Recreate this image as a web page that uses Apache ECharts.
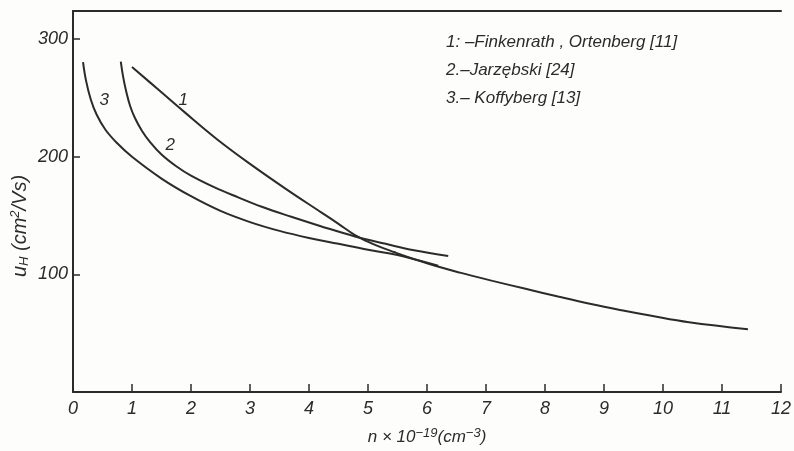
<!DOCTYPE html>
<html>
<head>
<meta charset="utf-8">
<script src="https://cdn.jsdelivr.net/npm/echarts@6/dist/echarts.min.js"></script>
</head>
<body style="margin:0;background:#fdfdfb">
<div id="container" style="width:794px;height:451px"></div>
<script>
// n x 10^-19 (cm^-3) vs Hall mobility u_H (cm^2/Vs)
var n1 = [1.0, 1.45, 1.89, 2.44, 3.0, 3.6, 4.2, 4.5, 4.78, 5.1, 5.44, 6.0, 6.56, 7.11, 7.67, 8.22, 8.78, 9.3, 9.78, 10.44, 11.44];
var u1 = [276.4, 257, 238, 215, 194, 173, 153, 143, 133.5, 125.5, 119, 109.5, 101.5, 94.5, 87.8, 81.2, 74.8, 69.5, 65, 59.3, 53.4];
var n2 = [0.81, 0.85, 0.9, 0.97, 1.05, 1.17, 1.3, 1.5, 1.75, 2.0, 2.4, 2.8, 3.2, 3.7, 4.2, 4.78, 5.3, 5.78, 6.36];
var u2 = [281, 268, 256, 243, 233, 222, 213, 202, 192, 184, 174, 165.5, 157.5, 149, 141, 132.3, 126, 120.5, 115.7];
var n3 = [0.17, 0.22, 0.3, 0.4, 0.55, 0.75, 1.0, 1.5, 2.0, 2.5, 3.0, 3.5, 4.0, 4.5, 5.0, 5.5, 5.85, 6.19];
var u3 = [280.5, 265, 249, 236, 223, 211.5, 200, 181.5, 166.5, 154, 144.5, 137, 131, 126, 121, 116.5, 112, 107.4];
var refs = ['1: \u2013Finkenrath , Ortenberg [11]', '2.\u2013Jarz\u0119bski [24]', '3.\u2013 Koffyberg [13]'];

function pairs(xs, ys) {
  return xs.map(function (x, i) { return [x, ys[i]]; });
}

var ink = '#2b2b2b';
var font = 'Liberation Sans';

function curve(name, xs, ys, tag, at) {
  return {
    name: name,
    type: 'line',
    data: pairs(xs, ys),
    smooth: 0.4,
    showSymbol: false,
    lineStyle: {color: ink, width: 2},
    markPoint: {
      symbol: 'circle',
      symbolSize: 0,
      label: {show: true, formatter: tag, color: ink, fontSize: 17, fontStyle: 'italic', fontFamily: font},
      data: [{coord: at}]
    }
  };
}

var chart = echarts.init(document.getElementById('container'));
chart.setOption({
  backgroundColor: '#fdfdfb',
  animation: false,
  grid: {left: 73, right: 1, top: 11, bottom: 50},
  title: {
    text: refs.join('\n'),
    left: 441,
    top: 23,
    textStyle: {color: ink, fontSize: 17, fontStyle: 'italic', fontWeight: 'normal', fontFamily: font, lineHeight: 28}
  },
  graphic: [{
    type: 'text',
    x: 20,
    y: 226,
    rotation: Math.PI / 2,
    style: {
      text: '{b|u}{s|H}{b| (cm}{p|2}{b|/Vs)}',
      align: 'center',
      verticalAlign: 'middle',
      fill: ink,
      rich: {
        b: {fontSize: 20, fontStyle: 'italic', fontFamily: font, fill: ink},
        s: {fontSize: 13, fontStyle: 'italic', fontFamily: font, fill: ink, verticalAlign: 'bottom', padding: [9, 0, 0, 0]},
        p: {fontSize: 13, fontStyle: 'italic', fontFamily: font, fill: ink, verticalAlign: 'top', padding: [0, 0, 9, 0]}
      }
    }
  }],
  xAxis: [{
    type: 'value',
    min: 0,
    max: 12,
    interval: 1,
    name: '{b|n \u00d7 10}{p|\u221219}{b|(cm}{p|\u22123}{b|)}',
    nameLocation: 'middle',
    nameGap: 35,
    nameTextStyle: {
      rich: {
        b: {fontSize: 17, fontStyle: 'italic', fontFamily: font, color: ink},
        p: {fontSize: 13, fontStyle: 'italic', fontFamily: font, color: ink, verticalAlign: 'top', padding: [0, 0, 8, 0]}
      }
    },
    splitLine: {show: false},
    axisLine: {lineStyle: {color: ink, width: 2}},
    axisTick: {inside: true, length: 8, lineStyle: {color: ink, width: 1.5}},
    axisLabel: {color: ink, fontSize: 18, fontStyle: 'italic', fontFamily: font, margin: 8}
  }, {
    type: 'value',
    position: 'top',
    min: 0,
    max: 12,
    axisLine: {show: true, lineStyle: {color: ink, width: 2}},
    axisTick: {show: false},
    axisLabel: {show: false},
    splitLine: {show: false}
  }],
  yAxis: {
    type: 'value',
    min: 0,
    max: 324,
    interval: 100,
    splitLine: {show: false},
    axisLine: {show: true, lineStyle: {color: ink, width: 2}},
    axisTick: {show: true, inside: true, length: 7, lineStyle: {color: ink, width: 1.5}},
    axisLabel: {color: ink, fontSize: 18, fontStyle: 'italic', fontFamily: font, margin: 5, showMinLabel: false, showMaxLabel: false}
  },
  series: [
    curve('Finkenrath, Ortenberg', n1, u1, '1', [1.87, 248]),
    curve('Jarz\u0119bski', n2, u2, '2', [1.65, 210]),
    curve('Koffyberg', n3, u3, '3', [0.53, 248])
  ]
});
</script>
</body>
</html>
